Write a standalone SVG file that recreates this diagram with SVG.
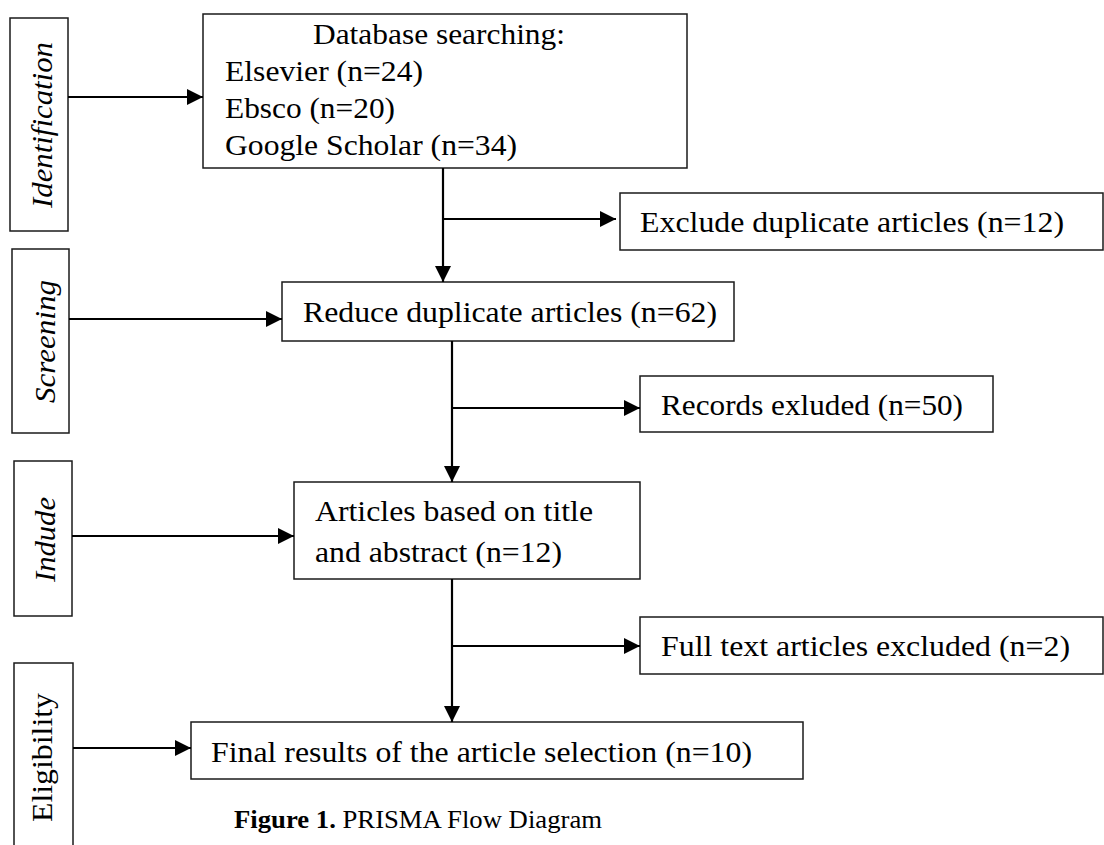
<svg xmlns="http://www.w3.org/2000/svg" width="1104" height="845" viewBox="0 0 1104 845">
<style>
  .box { fill: #ffffff; stroke: #1a1a1a; stroke-width: 1.5; }
  .t { font-family: "Liberation Serif", "Times New Roman", Times, serif; font-size: 29px; fill: #000000; }
  .it { font-style: italic; }
  .cap { font-family: "Liberation Serif", "Times New Roman", Times, serif; font-size: 25px; fill: #000000; }
  .ln { stroke: #000000; stroke-width: 2.2; fill: none; }
</style>
<defs>
  <marker id="ah" viewBox="0 0 16 16" refX="16" refY="8" markerWidth="16" markerHeight="16" markerUnits="userSpaceOnUse" orient="auto">
    <path d="M0,0 L16,8 L0,16 Z" fill="#000000"/>
  </marker>
</defs>
<rect width="1104" height="845" fill="#ffffff"/>

<g id="stage-identification">
  <rect class="box" x="10" y="18" width="58" height="213"/>
  <text class="t it" transform="translate(52,208) rotate(-90)" textLength="166" lengthAdjust="spacingAndGlyphs">Identification</text>
</g>
<g id="stage-screening">
  <rect class="box" x="12" y="249" width="57" height="184"/>
  <text class="t it" transform="translate(55,403) rotate(-90)" textLength="123" lengthAdjust="spacingAndGlyphs">Screening</text>
</g>
<g id="stage-include">
  <rect class="box" x="14" y="461" width="58" height="155"/>
  <text class="t it" transform="translate(55,582) rotate(-90)" textLength="85" lengthAdjust="spacingAndGlyphs">Indude</text>
</g>
<g id="stage-eligibility">
  <rect class="box" x="14" y="663" width="59" height="190"/>
  <text class="t" transform="translate(52,822) rotate(-90)" textLength="129" lengthAdjust="spacingAndGlyphs">Eligibility</text>
</g>

<g id="node-database">
  <rect class="box" x="203" y="14" width="484" height="154"/>
  <text class="t" x="313" y="44" textLength="252" lengthAdjust="spacingAndGlyphs">Database searching:</text>
  <text class="t" x="225" y="81" textLength="198" lengthAdjust="spacingAndGlyphs">Elsevier (n=24)</text>
  <text class="t" x="225" y="118" textLength="170" lengthAdjust="spacingAndGlyphs">Ebsco (n=20)</text>
  <text class="t" x="225" y="155" textLength="292" lengthAdjust="spacingAndGlyphs">Google Scholar (n=34)</text>
</g>
<g id="node-exclude-duplicates">
  <rect class="box" x="620" y="193" width="483" height="57"/>
  <text class="t" x="640" y="232" textLength="424" lengthAdjust="spacingAndGlyphs">Exclude duplicate articles (n=12)</text>
</g>
<g id="node-reduce">
  <rect class="box" x="282" y="282" width="452" height="59"/>
  <text class="t" x="303" y="322" textLength="414" lengthAdjust="spacingAndGlyphs">Reduce duplicate articles (n=62)</text>
</g>
<g id="node-records-excluded">
  <rect class="box" x="640" y="376" width="353" height="56"/>
  <text class="t" x="661" y="415" textLength="302" lengthAdjust="spacingAndGlyphs">Records exluded (n=50)</text>
</g>
<g id="node-articles">
  <rect class="box" x="294" y="482" width="346" height="97"/>
  <text class="t" x="315" y="521" textLength="278" lengthAdjust="spacingAndGlyphs">Articles based on title</text>
  <text class="t" x="315" y="562" textLength="247" lengthAdjust="spacingAndGlyphs">and abstract (n=12)</text>
</g>
<g id="node-fulltext-excluded">
  <rect class="box" x="640" y="617" width="463" height="57"/>
  <text class="t" x="661" y="656" textLength="409" lengthAdjust="spacingAndGlyphs">Full text articles excluded (n=2)</text>
</g>
<g id="node-final">
  <rect class="box" x="191" y="722" width="612" height="57"/>
  <text class="t" x="211" y="762" textLength="541" lengthAdjust="spacingAndGlyphs">Final results of the article selection (n=10)</text>
</g>

<g id="connectors">
  <line class="ln" x1="68" y1="97" x2="203" y2="97" marker-end="url(#ah)"/>
  <line class="ln" x1="443" y1="168" x2="443" y2="282" marker-end="url(#ah)"/>
  <line class="ln" x1="443" y1="219" x2="616" y2="219" marker-end="url(#ah)"/>
  <line class="ln" x1="69" y1="319" x2="282" y2="319" marker-end="url(#ah)"/>
  <line class="ln" x1="452" y1="341" x2="452" y2="482" marker-end="url(#ah)"/>
  <line class="ln" x1="452" y1="408" x2="640" y2="408" marker-end="url(#ah)"/>
  <line class="ln" x1="72" y1="536" x2="294" y2="536" marker-end="url(#ah)"/>
  <line class="ln" x1="452" y1="579" x2="452" y2="722" marker-end="url(#ah)"/>
  <line class="ln" x1="452" y1="646" x2="640" y2="646" marker-end="url(#ah)"/>
  <line class="ln" x1="73" y1="748" x2="191" y2="748" marker-end="url(#ah)"/>
</g>

<text class="cap" x="234" y="828" textLength="368" lengthAdjust="spacingAndGlyphs"><tspan font-weight="bold">Figure 1.</tspan> PRISMA Flow Diagram</text>
</svg>
